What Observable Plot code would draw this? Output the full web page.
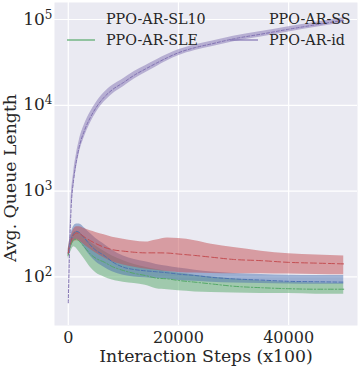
<!DOCTYPE html>
<html><head><meta charset="utf-8">
<script src="https://cdn.jsdelivr.net/npm/d3@7"></script>
<script src="https://cdn.jsdelivr.net/npm/@observablehq/plot@0.6"></script>
<style>body{margin:0;background:#fff;} svg{display:block;}</style>
</head><body><div id="chart"></div>
<script>
const steps = [0, 250, 500, 1000, 1500, 2000, 3000, 4000, 5000, 6500, 8000, 10000, 12000, 14000, 16000, 18000, 20000, 23000, 26000, 30000, 35000, 40000, 45000, 50000];

const sl10Mean = [190, 230, 260, 310, 325, 320, 290, 265, 245, 222, 208, 200, 194, 191, 191, 190, 185, 178, 170, 160, 155, 148, 145, 142];
const sl10Hi   = [210, 265, 300, 360, 385, 385, 365, 345, 330, 310, 290, 275, 262, 255, 270, 285, 280, 265, 240, 220, 200, 186, 180, 176];
const sl10Lo   = [170, 200, 220, 255, 265, 260, 235, 210, 190, 168, 150, 138, 130, 124, 120, 116, 113, 111, 110, 109, 109, 108, 107, 106];

const ssMean = [190, 235, 270, 320, 340, 330, 280, 235, 205, 178, 150, 130, 122, 118, 115, 112, 108, 104, 99, 95, 92, 89, 88, 87];
const ssHi   = [210, 270, 320, 390, 415, 415, 370, 320, 280, 240, 205, 175, 160, 150, 140, 133, 127, 120, 114, 110, 107, 105, 104, 104];
const ssLo   = [170, 200, 225, 260, 275, 265, 215, 175, 150, 130, 115, 105, 100, 98, 96, 94, 91, 89, 87, 85, 84, 83, 82, 82];

const sleMean = [180, 215, 240, 275, 275, 260, 220, 185, 165, 149, 132, 119, 110, 104, 97, 95, 91, 87, 83, 78, 75, 73, 72, 72];
const sleHi   = [200, 245, 280, 330, 340, 330, 290, 255, 230, 200, 175, 155, 140, 130, 122, 116, 111, 105, 100, 95, 90, 87, 85, 84];
const sleLo   = [160, 185, 200, 225, 215, 195, 160, 130, 112, 100, 92, 87, 84, 80, 73, 71, 69, 67, 66, 65, 64, 64, 63, 63];

const idMean = [50, 220, 600, 1400, 2300, 3300, 5200, 7200, 9300, 12400, 15200, 18400, 22500, 26500, 31000, 36000, 41000, 47000, 52000, 59500, 67500, 77000, 87000, 98000];
const idHi   = [55, 270, 720, 1680, 2750, 3900, 6100, 8300, 10600, 14000, 17000, 20400, 24800, 29000, 33800, 39000, 44300, 50600, 55900, 63800, 72300, 82300, 92900, 104500];
const idLo   = [45, 175, 480, 1150, 1900, 2750, 4400, 6200, 8100, 10900, 13500, 16500, 20300, 24000, 28200, 33000, 37700, 43400, 48100, 55200, 62700, 71700, 81100, 91500];

const seriesNames = ["PPO-AR-SL10", "PPO-AR-SLE", "PPO-AR-SS", "PPO-AR-id"];
const seriesColors = ["#C44E52", "#55A868", "#4C72B0", "#8172B2"];
const seriesDash = ["6,3", "5,2,1.5,2", "4,2", "3,2"];
const xTicks = [0, 20000, 40000];
const yTicks = [100, 1000, 10000, 100000];
const xLabel = "Interaction Steps (x100)";
const yLabel = "Avg. Queue Length";

const seriesData = [
  [sl10Mean, sl10Lo, sl10Hi],
  [sleMean, sleLo, sleHi],
  [ssMean, ssLo, ssHi],
  [idMean, idLo, idHi]
];
const rows = [];
seriesData.forEach(([m, lo, hi], k) => {
  steps.forEach((s, i) => rows.push({series: seriesNames[k], step: s, mean: m[i], lo: lo[i], hi: hi[i]}));
});
const drawOrder = ["PPO-AR-SLE", "PPO-AR-SS", "PPO-AR-SL10", "PPO-AR-id"];
const marks = [
  Plot.frame({fill: "#EAEAF2", stroke: null}),
  Plot.ruleX(xTicks, {stroke: "#fff", strokeWidth: 1.2}),
  Plot.ruleY(yTicks, {stroke: "#fff", strokeWidth: 1.2})
];
for (const name of drawOrder) {
  const k = seriesNames.indexOf(name);
  const d = rows.filter(r => r.series === name);
  marks.push(Plot.areaY(d, {x: "step", y1: "lo", y2: "hi", fill: seriesColors[k], fillOpacity: 0.5, curve: "monotone-x"}));
}
for (const name of drawOrder) {
  const k = seriesNames.indexOf(name);
  const d = rows.filter(r => r.series === name);
  marks.push(Plot.lineY(d, {x: "step", y: "mean", stroke: seriesColors[k], strokeWidth: 1, strokeDasharray: seriesDash[k], curve: "monotone-x"}));
}

const W = 358, H = 368;
const svg = Plot.plot({
  width: W, height: H,
  marginLeft: 54, marginRight: 1, marginTop: 2, marginBottom: 43,
  style: {fontFamily: "DejaVu Serif", fontSize: "16px", color: "#262626", background: "#fff"},
  x: {domain: [-2500, 52500], ticks: xTicks, tickSize: 0, tickPadding: 6, label: null, tickFormat: d => String(d)},
  y: {type: "log", domain: [27.2, 157800], ticks: yTicks, tickSize: 0, tickPadding: 2, label: null, tickFormat: d => "10^" + Math.round(Math.log10(d))},
  marks
});

// superscript exponents on y tick labels
svg.querySelectorAll("text").forEach(t => {
  const s = t.textContent;
  if (s.startsWith("10^")) {
    const e = s.slice(3);
    t.textContent = "";
    const a = document.createElementNS("http://www.w3.org/2000/svg", "tspan");
    a.textContent = "10";
    a.setAttribute("font-size", "17px");
    const b = document.createElementNS("http://www.w3.org/2000/svg", "tspan");
    b.textContent = e;
    b.setAttribute("dy", "-0.5em");
    b.setAttribute("font-size", "12px");
    t.appendChild(a); t.appendChild(b);
  }
});

const sel = d3.select(svg);
sel.append("text").attr("x", 206).attr("y", 362).attr("text-anchor", "middle")
  .attr("font-size", 17.3).attr("fill", "#262626").text(xLabel);
sel.append("text").attr("transform", "translate(16,178) rotate(-90)").attr("text-anchor", "middle")
  .attr("font-size", 17.3).attr("fill", "#262626").text(yLabel);

// legend
const leg = [
  {name: "PPO-AR-SL10", x: 106, y: 19, line: false},
  {name: "PPO-AR-SLE", x: 106, y: 40, line: true},
  {name: "PPO-AR-SS", x: 269, y: 19, line: false},
  {name: "PPO-AR-id", x: 269, y: 40, line: true}
];
leg.forEach(l => {
  const k = seriesNames.indexOf(l.name);
  if (l.line) sel.append("line").attr("x1", l.x - 39).attr("x2", l.x - 11).attr("y1", l.y).attr("y2", l.y)
    .attr("stroke", seriesColors[k]).attr("stroke-width", 1.2);
  sel.append("text").attr("x", l.x).attr("y", l.y).attr("dy", "0.35em").attr("font-size", 14.3)
    .attr("text-anchor", "start").attr("fill", "#262626").text(l.name);
});
document.getElementById("chart").appendChild(svg);
</script></body></html>
